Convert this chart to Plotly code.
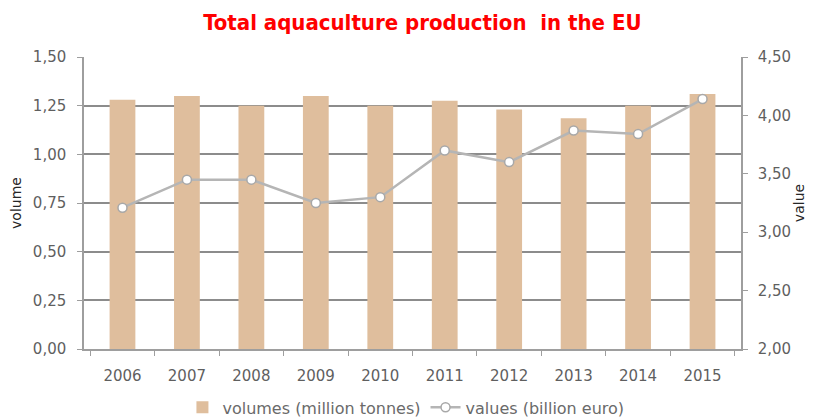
import plotly.graph_objects as go

years = ["2006", "2007", "2008", "2009", "2010", "2011", "2012", "2013", "2014", "2015"]
volumes = [1.28, 1.30, 1.25, 1.30, 1.25, 1.275, 1.23, 1.185, 1.25, 1.31]
values = [3.21, 3.45, 3.45, 3.25, 3.30, 3.70, 3.60, 3.87, 3.84, 4.14]
left_ticks = [0, 0.25, 0.5, 0.75, 1.0, 1.25, 1.5]
left_labels = ["0,00", "0,25", "0,50", "0,75", "1,00", "1,25", "1,50"]
right_ticks = [2.0, 2.5, 3.0, 3.5, 4.0, 4.5]
right_labels = ["2,00", "2,50", "3,00", "3,50", "4,00", "4,50"]

tick_font = dict(family="DejaVu Sans, Verdana, sans-serif", size=15, color="#5f5f5f")

fig = go.Figure()
fig.add_trace(go.Bar(
    x=years, y=volumes, name="volumes (million tonnes)",
    marker=dict(color="#DFBE9D", line=dict(width=0)),
    yaxis="y",
))
fig.add_trace(go.Scatter(
    x=years, y=values, name="values (billion euro)",
    mode="lines+markers",
    line=dict(color="#B5B5B5", width=2.5),
    marker=dict(symbol="circle", size=9, color="white", line=dict(color="#A8A8A8", width=1.5)),
    yaxis="y2",
))

fig.update_layout(
    width=814, height=418,
    margin=dict(l=76, r=81, t=49, b=77, autoexpand=False),
    paper_bgcolor="white", plot_bgcolor="white",
    bargap=0.6,
    title=dict(
        text="<b>Total aquaculture production  in the EU</b>",
        x=0.509, xanchor="center", y=0.966, yanchor="middle",
        font=dict(family="DejaVu Sans Condensed, Liberation Sans Narrow, sans-serif", size=22, color="#FF0000"),
        automargin=False,
    ),
    xaxis=dict(
        type="category", showline=True, linecolor="#9E9E9E", linewidth=1.5,
        ticks="outside", tickson="boundaries", ticklen=5, tickcolor="#9E9E9E",
        tickfont=tick_font, showgrid=False, automargin=False, ticklabelstandoff=12,
    ),
    yaxis=dict(
        range=[0, 1.5], tickvals=left_ticks, ticktext=left_labels,
        showline=True, linecolor="#9E9E9E", linewidth=1.5,
        ticks="outside", ticklen=5, tickcolor="#9E9E9E",
        showgrid=True, gridcolor="#8C8C8C", gridwidth=1.5,
        zeroline=False, tickfont=tick_font, automargin=False, ticklabelstandoff=8,
        title=dict(text="volume", font=dict(family="DejaVu Sans, sans-serif", size=14, color="#262626"), standoff=10),
    ),
    yaxis2=dict(
        range=[2.0, 4.5], tickvals=right_ticks, ticktext=right_labels,
        overlaying="y", side="right",
        showline=True, linecolor="#9E9E9E", linewidth=1.5,
        ticks="outside", ticklen=5, tickcolor="#9E9E9E",
        showgrid=False, zeroline=False, tickfont=tick_font, automargin=False, ticklabelstandoff=7,
        title=dict(text="value", font=dict(family="DejaVu Sans, sans-serif", size=14, color="#262626"), standoff=4),
    ),
    legend=dict(
        orientation="h", x=0.49, xanchor="center", y=-0.2, yanchor="middle",
        font=dict(family="DejaVu Sans, Verdana, sans-serif", size=16, color="#6a6a6a"),
        itemwidth=30,
    ),
    showlegend=True,
)

fig.write_html("out.html")
